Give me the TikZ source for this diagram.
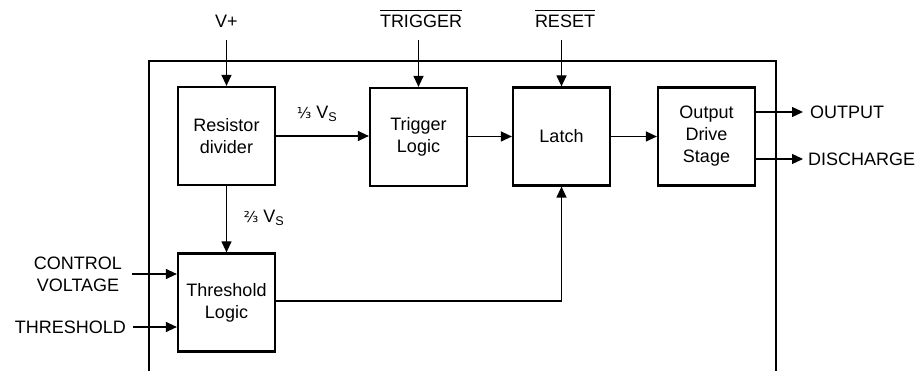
\documentclass[tikz,border=0pt]{standalone}
\usepackage{fontspec}
\setmainfont{Liberation Sans}
\newfontfamily\djv{DejaVu Sans}
\usetikzlibrary{arrows.meta}
\newcommand{\myovl}[1]{\leavevmode\vbox{\hrule height 1.2pt\kern 4.5pt\hbox{#1}}}
\begin{document}
\begin{tikzpicture}[x=1pt,y=-1pt,
  font=\fontsize{18}{22}\selectfont,
  blk/.style={draw,line width=2.2pt,minimum width=97pt,minimum height=98pt,align=center,inner sep=0pt},
  lbl/.style={inner sep=0pt,align=center},
  arr/.style={line width=1.2pt,-{Triangle[length=11pt,width=10pt]}},
  frame/.style={line width=2.4pt}]
\useasboundingbox (0,0) rectangle (921,371);
% outer frame (open at bottom)
\draw[frame] (149,375) -- (149,61) -- (776,61) -- (776,375);
% blocks
\node[blk] (R) at (226.5,136) {Resistor\\divider};
\node[blk] (T) at (418.5,137) {Trigger\\Logic};
\node[blk] (L) at (561.5,136.5) {Latch};
\node[blk] (O) at (706.5,136.5) {Output\\Drive\\Stage};
\node[blk] (Th) at (226.5,302.5) {Threshold\\Logic};
% top inputs
\node[lbl,anchor=base] (vp) at (226.5,28) {V+};
\node[lbl,anchor=base] (trg) at (421,28) {\myovl{TRIGGER}};
\node[lbl,anchor=base] (rst) at (565,28) {\myovl{RESET}};
\coordinate (vpS) at (226.5,40);
\coordinate (trgS) at (418.5,40);
\coordinate (rstS) at (561.5,40);
\draw[arr] (vpS) -- (R.north);
\draw[arr] (trgS) -- (T.north);
\draw[arr] (rstS) -- (L.north);
% internal connections
\draw[arr] (R.east) -- (T.west |- R.east);
\node[lbl,anchor=base] (v13) at (317,119) {{\djv\fontsize{15}{18}\selectfont ⅓} V\textsubscript{S}};
\draw[arr] (T.east |- L.west) -- (L.west);
\draw[arr] (L.east) -- (O.west);
\draw[arr] (R.south) -- (Th.north);
\node[lbl,anchor=base] (v23) at (264,223) {{\djv\fontsize{15}{18}\selectfont ⅔} V\textsubscript{S}};
\draw[arr] (Th.east |- 0,301) -| (L.south);
% outputs
\node[lbl,anchor=west] (out) at (810,112) {OUTPUT};
\node[lbl,anchor=west] (dis) at (808,159) {DISCHARGE};
\coordinate (outE) at (803,112);
\coordinate (disE) at (803,159);
\draw[arr] (O.east |- outE) -- (outE);
\draw[arr] (O.east |- disE) -- (disE);
% left inputs
\node[lbl] (cv) at (78,274) {CONTROL\\VOLTAGE};
\node[lbl,anchor=east] (thr) at (126,327) {THRESHOLD};
\coordinate (cvS) at (132,274);
\coordinate (thrS) at (133,327);
\draw[arr] (cvS) -- (Th.west |- cvS);
\draw[arr] (thrS) -- (Th.west |- thrS);
\end{tikzpicture}
\end{document}
